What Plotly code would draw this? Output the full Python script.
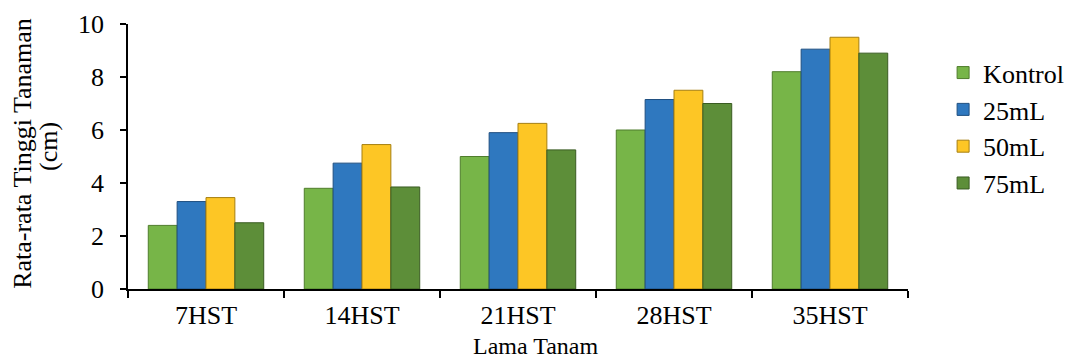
import plotly.graph_objects as go

categories = ["7HST", "14HST", "21HST", "28HST", "35HST"]
kontrol = [2.4, 3.8, 5.0, 6.0, 8.2]
ml25 = [3.3, 4.75, 5.9, 7.15, 9.05]
ml50 = [3.45, 5.45, 6.25, 7.5, 9.5]
ml75 = [2.5, 3.85, 5.25, 7.0, 8.9]

series = [
    ("Kontrol", kontrol, "#77b548", "#4f7d2c"),
    ("25mL", ml25, "#2f78bf", "#1f4f80"),
    ("50mL", ml50, "#fdc625", "#a67f10"),
    ("75mL", ml75, "#5d8e39", "#3a5c22"),
]

font_family = "Liberation Serif, Times New Roman, serif"
FS = 26

fig = go.Figure()
for name, vals, color, edge in series:
    fig.add_trace(go.Bar(
        name=name, x=categories, y=vals, legendgroup=name,
        marker=dict(color=color, line=dict(color=edge, width=1)),
    ))

fig.update_layout(
    width=1070, height=361,
    margin=dict(l=128, r=162, t=24, b=72, autoexpand=False),
    paper_bgcolor="white", plot_bgcolor="white",
    barmode="group", bargap=0.26, bargroupgap=0.0,
    font=dict(family=font_family, size=FS, color="black"),
    legend=dict(
        x=1.045, y=0.905, xanchor="left", yanchor="top",
        font=dict(size=FS), tracegroupgap=0, itemwidth=30,
        bgcolor="rgba(0,0,0,0)",
    ),
    showlegend=True,
)

fig.update_xaxes(
    showline=True, linecolor="black", linewidth=2,
    ticks="outside", tickson="boundaries", ticklen=7, tickwidth=2, tickcolor="black",
    tickfont=dict(size=FS), ticklabelstandoff=2,
)
fig.update_yaxes(
    range=[0, 10], dtick=2,
    showline=True, linecolor="black", linewidth=1.5,
    ticks="outside", ticklen=6, tickwidth=1.5, tickcolor="black",
    showgrid=False, zeroline=False,
    tickfont=dict(size=FS), ticklabelstandoff=11,
)

# axis titles placed as annotations
fig.add_annotation(
    text="Lama Tanam", xref="paper", yref="paper",
    x=0.522, y=-0.2717, xanchor="center", yanchor="bottom",
    showarrow=False, font=dict(size=24),
)
fig.add_annotation(
    text="Rata-rata Tinggi Tanaman", xref="paper", yref="paper",
    x=-0.1346, y=0.51, xanchor="center", yanchor="middle", textangle=-90,
    showarrow=False, font=dict(size=FS),
)
fig.add_annotation(
    text="(cm)", xref="paper", yref="paper",
    x=-0.1013, y=0.54, xanchor="center", yanchor="middle", textangle=-90,
    showarrow=False, font=dict(size=FS),
)

fig.write_html("out.html")
